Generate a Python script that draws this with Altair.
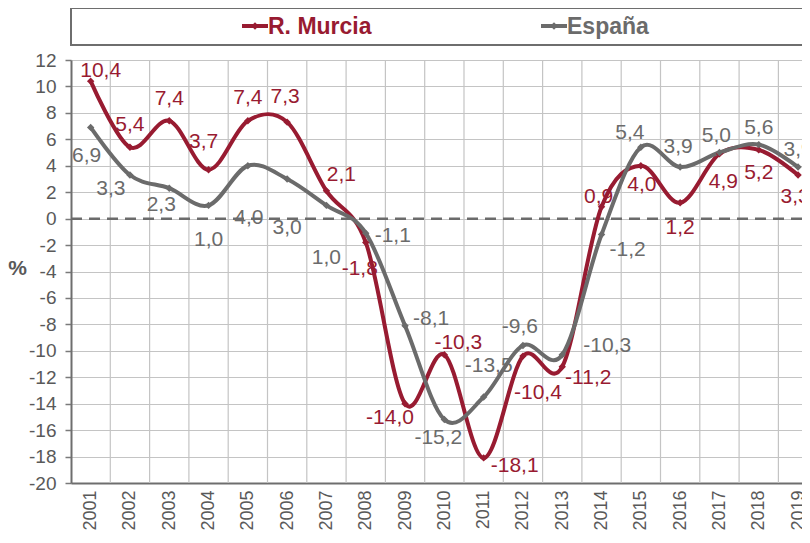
import altair as alt
import pandas as pd

years = list(range(2001, 2020))
murcia = [10.4, 5.4, 7.4, 3.7, 7.4, 7.3, 2.1, -1.8, -14.0, -10.3, -18.1, -10.4, -11.2, 0.9, 4.0, 1.2, 4.9, 5.2, 3.3]
espana = [6.9, 3.3, 2.3, 1.0, 4.0, 3.0, 1.0, -1.1, -8.1, -15.2, -13.5, -9.6, -10.3, -1.2, 5.4, 3.9, 5.0, 5.6, 3.9]
series_names = ["R. Murcia", "España"]
y_ticks = list(range(-20, 13, 2))

# label placement (pixel offsets from each point), styling only
murcia_dx = [10, 0, 0, -5, 0, -2, 15, -6, -15, 14, 31, 15, 26, -3, 1, 0, 4, 0, -3]
murcia_dy = [-10, -22, -22, -28, -23, -25, -16, 27, 14, -12, 8, 37, 11, -10, 19, 25, 28, 23, 22]
espana_dx = [-4, -19, -8, 0, 1, 0, 0, 27, 26, -6, 5, -3, 45, 26, -11, -2, -3, 0, 0]
espana_dy = [29, 14, 17, 35, 52, 49, 53, 3, -7, 18, -31, -19, -9, 16, -14, -20, -17, -17, -17]

RED = "#981B31"
GRAY = "#6B6B6B"
LABEL_GRAY = "#606060"
AX_GRAY = "#595959"
FONT = "Liberation Sans"

rows = []
for i, yr in enumerate(years):
    rows.append({"year": yr, "value": murcia[i], "serie": series_names[0],
                 "label": f"{murcia[i]:.1f}".replace(".", ","), "dx": murcia_dx[i], "dy": murcia_dy[i]})
for i, yr in enumerate(years):
    rows.append({"year": yr, "value": espana[i], "serie": series_names[1],
                 "label": f"{espana[i]:.1f}".replace(".", ","), "dx": espana_dx[i], "dy": espana_dy[i]})
df = pd.DataFrame(rows)

W = 731
H = 423
BAND = 39.3
X0 = 2000.5
X1 = X0 + W / BAND
Y0, Y1 = -20, 12
PX_PER_YEAR = BAND
PX_PER_UNIT = H / (Y1 - Y0)

xscale = alt.Scale(domain=[X0, X1], nice=False, zero=False)
yscale = alt.Scale(domain=[Y0, Y1], nice=False, zero=False)
color = alt.Color("serie:N", scale=alt.Scale(domain=series_names, range=[RED, GRAY]), legend=None)

ax_x = alt.Axis(values=years, format="d", labelAngle=270, labelFontSize=18, labelFont=FONT,
                labelColor=AX_GRAY, ticks=False, tickSize=0, labelPadding=7, grid=False,
                domainColor="#6E6E6E", domainWidth=2, title=None, labelOverlap=False)
ax_y = alt.Axis(values=y_ticks, labelFontSize=19, labelFont=FONT, labelColor=AX_GRAY,
                labelExpr="'' + datum.value", labelOverlap=False,
                tickColor="#7A7A7A", tickWidth=1.5, tickSize=6, labelPadding=9,
                grid=True, gridColor="#C4C4C4", gridWidth=1.2,
                domainColor="#6E6E6E", domainWidth=2,
                title="%", titleAngle=0, titleFont=FONT, titleFontSize=21, titleFontWeight="bold",
                titleColor=AX_GRAY, titleX=-54, titleY=208, titleAlign="center", titleBaseline="middle")

X = alt.X("year:Q", scale=xscale, axis=ax_x)
Y = alt.Y("value:Q", scale=yscale, axis=ax_y)

bounds = pd.DataFrame({"year": years})
vgrid = alt.Chart(bounds).transform_calculate(b="datum.year + 0.5").transform_filter(
    f"datum.b < {X1}").mark_rule(color="#C4C4C4", strokeWidth=1.2).encode(
    x=alt.X("b:Q", scale=xscale, axis=ax_x))

zero = alt.Chart(pd.DataFrame({"z": [0]})).mark_rule(
    color="#6B6B6B", strokeWidth=2.5, strokeDash=[11, 7]).encode(y=alt.Y("z:Q", scale=yscale, axis=ax_y))

lines = alt.Chart(df).mark_line(interpolate="cardinal", tension=0, strokeWidth=4).encode(
    x=X, y=Y, color=color, order=alt.Order("year:Q"), detail="serie:N")

pts = alt.Chart(df).mark_point(shape="diamond", filled=True, size=55, opacity=1).encode(
    x=X, y=Y, color=color)

labels = alt.Chart(df).transform_calculate(
    lx=f"datum.year + datum.dx / {PX_PER_YEAR}",
    ly=f"datum.value - datum.dy / {PX_PER_UNIT}",
).mark_text(font=FONT, fontSize=21, align="center", baseline="middle").encode(
    x=alt.X("lx:Q", scale=xscale, axis=ax_x),
    y=alt.Y("ly:Q", scale=yscale, axis=ax_y),
    text="label:N",
    color=alt.Color("serie:N", scale=alt.Scale(domain=series_names, range=[RED, LABEL_GRAY]), legend=None))

# legend box (decoration)
leg_box = alt.Chart(pd.DataFrame({"k": [0]})).mark_rect(
    fill="white", stroke="#6E6E6E", strokeWidth=2).encode(
    x=alt.value(0), x2=alt.value(W + 10), y=alt.value(-52), y2=alt.value(-15))

leg_df = pd.DataFrame({"serie": series_names})
def legend_entry(name, col, x_line0):
    src = alt.Chart(leg_df).transform_filter(alt.datum.serie == name)
    ln = src.mark_rule(color=col, strokeWidth=4).encode(
        x=alt.value(x_line0), x2=alt.value(x_line0 + 26), y=alt.value(-34))
    pt = src.mark_point(shape="diamond", filled=True, size=55, color=col, opacity=1).encode(
        x=alt.value(x_line0 + 13), y=alt.value(-34))
    tx = src.mark_text(font=FONT, fontSize=23, fontWeight="bold", color=col, align="left",
                       baseline="middle").encode(x=alt.value(x_line0 + 26), y=alt.value(-33), text="serie:N")
    return [ln, pt, tx]

leg_layers = legend_entry(series_names[0], RED, 171) + legend_entry(series_names[1], GRAY, 470)

chart = alt.layer(
    vgrid, zero, lines, pts, labels, leg_box, *leg_layers
).properties(
    width=W, height=H,
    autosize=alt.AutoSizeParams(type="none"),
    padding={"left": 63, "top": 52, "right": 0, "bottom": 50},
).configure_view(stroke="#8A8A8A", strokeWidth=2).configure(background="white")

chart.save("out.html", embed_options={"renderer": "svg", "actions": False})
